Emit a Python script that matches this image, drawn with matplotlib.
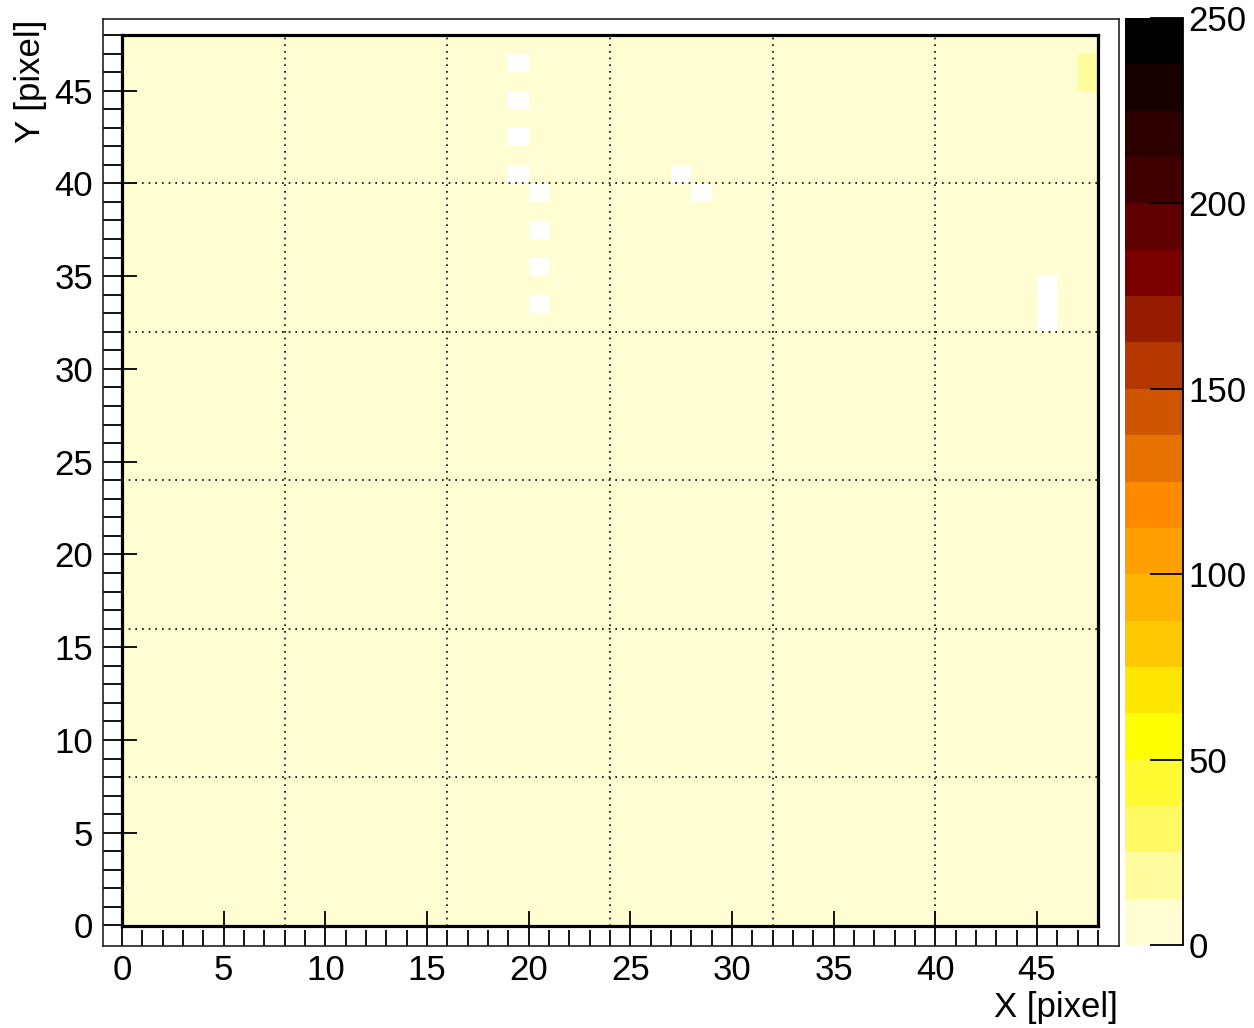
import numpy as np
import matplotlib
matplotlib.use("Agg")
import matplotlib.pyplot as plt
from matplotlib.colors import ListedColormap, BoundaryNorm

plt.rcParams['font.family'] = ['Liberation Sans', 'DejaVu Sans']

# hit map, 48 x 48 pixels
n_x = 48
n_y = 48
base_count = 4
# (x, y) pixels with no hits
empty_pixels = [(19, 40), (19, 42), (19, 44), (19, 46),
                (20, 33), (20, 35), (20, 37), (20, 39),
                (27, 40), (28, 39),
                (45, 32), (45, 33), (45, 34)]
# (x, y, counts) pixels above the base level
hot_pixels = [(47, 45, 20), (47, 46, 20)]

# palette, lowest level first
palette = ['#fffed2', '#fffca0', '#fffa64', '#fffa32', '#ffff00',
           '#ffe600', '#ffc800', '#ffb400', '#ffa000', '#ff8a00',
           '#e67300', '#d05500', '#b43700', '#961c00', '#7a0000',
           '#5f0000', '#410000', '#2d0000', '#190000', '#000000']
z_max = 250
cbar_ticks = [0, 50, 100, 150, 200, 250]
grid_lines = [8, 16, 24, 32, 40]
fs = 25

counts = np.full((n_y, n_x), base_count, dtype=float)
for x, y in empty_pixels:
    counts[y, x] = 0
for x, y, c in hot_pixels:
    counts[y, x] = c
counts = np.ma.masked_equal(counts, 0)

cmap = ListedColormap(palette)
bounds = np.linspace(0, z_max, len(palette) + 1)
norm = BoundaryNorm(bounds, cmap.N)

W, H = 1254, 1028
fig = plt.figure(figsize=(W / 100, H / 100), dpi=100)

# outer frame with the unit ticks and labels
outer = fig.add_axes([103 / W, 82 / H, 1016 / W, 927 / H])
outer.set_xlim(-0.934, 49.03)
outer.set_ylim(-1.105, 48.86)
outer.set_xticks(range(0, 46, 5))
outer.set_xticks(range(0, n_x + 1), minor=True)
outer.set_yticks(range(0, 46, 5))
outer.set_yticks(range(0, n_y + 1), minor=True)
outer.tick_params(axis='x', which='major', direction='in', length=15,
                  width=1.3, labelsize=fs, pad=6, top=False)
outer.tick_params(axis='x', which='minor', direction='in', length=11.5,
                  width=1.3, top=False)
outer.tick_params(axis='y', which='both', direction='in', length=13.7,
                  width=1.3, labelsize=fs, pad=7, right=False)
for s in outer.spines.values():
    s.set_linewidth(1.2)
    s.set_color('#222222')

# histogram frame
ax = fig.add_axes([122 / W, 102.5 / H, 976 / W, 890.5 / H])
ax.set_facecolor('white')
mesh = ax.pcolormesh(np.arange(n_x + 1), np.arange(n_y + 1), counts,
                     cmap=cmap, norm=norm)
ax.set_xlim(0, n_x)
ax.set_ylim(0, n_y)
ax.set_xticks(range(0, 46, 5))
ax.set_yticks(range(0, 46, 5))
ax.tick_params(direction='in', length=11, width=1.3, labelbottom=False,
               labelleft=False, top=False, right=False)
for s in ax.spines.values():
    s.set_linewidth(2.3)
for g in grid_lines:
    ax.axvline(g, color='black', lw=1.2, ls=(0, (1, 3)))
    ax.axhline(g, color='black', lw=1.2, ls=(0, (1, 3)))

fig.text(1118 / W, 1 - 1007 / H, 'X [pixel]', ha='right', va='center', size=fs)
fig.text(31 / W, 1 - 20 / H, 'Y [pixel]', ha='center', va='top', size=fs,
         rotation=90)

# palette axis
cax = fig.add_axes([1125 / W, 83 / H, 58 / W, 927 / H])
cb = fig.colorbar(mesh, cax=cax, ticks=cbar_ticks)
cb.outline.set_visible(False)
cax.minorticks_off()
cax.spines['right'].set_visible(True)
cax.spines['right'].set_linewidth(1.3)
cax.tick_params(direction='in', length=24, width=1.3, labelsize=fs, pad=4)

fig.savefig('out.png', dpi=100)
